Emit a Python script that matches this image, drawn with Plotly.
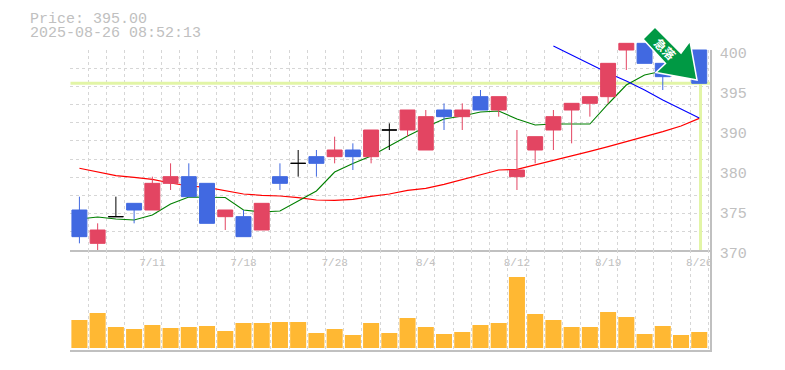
import plotly.graph_objects as go

price_label = "Price: 395.00"
time_label = "2025-08-26 08:52:13"
signal_label = "急落"

session = list(range(35))
opens = [376, 371, None, 377, 376, 380, 381, 380, 375, 375, 373, 381, None, 384, 384, 385, 384, None, 388, 385,
         391, 390, 393, 391, 381, 385, 388, 391, 392, 393, 400, 401, 398, 398, 400]
closes = [372, 373, None, 376, 380, 381, 378, 374, 376, 372, 377, 380, None, 383, 385, 384, 388, None, 391, 390,
          390, 391, 391, 393, 382, 387, 390, 392, 393, 398, 401, 398, 396, 397, 395]
highs = [378, 374, None, 377, 381, 383, 383, 380, 376, 376, 377, 383, None, 385, 387, 386, 388, None, 391, 391,
         392, 392, 394, 393, 388, 387, 391, 392, 393, 398, 401, 401, 398, 398, 400]
lows = [371, 370, None, 374, 376, 379, 378, 374, 373, 372, 373, 379, None, 381, 383, 382, 383, None, 387, 385,
        388, 388, 391, 390, 379, 383, 385, 386, 390, 392, 397, 398, 394, 397, 395]

doji_session = [2, 12, 17]
doji_price = [375, 383, 388]
doji_high = [378, 385, 389]
doji_low = [375, 381, 385]

ma_short = [374.65, 374.95, 374.65, 374.5, 375.25, 376.9, 377.95, 377.88, 377.88, 376, 375.7, 375.85, 377.35,
            378.85, 381.7, 382.98, 384.1, 385.6, 387.1, 388.45, 389.65, 390.1, 390.7, 390.85, 389.65, 388.75,
            388.9, 388.9, 388.9, 391.9, 394.75, 396.25, 396.85, 397.3, 397.3]
ma_long = [382.26, 381.7, 381.15, 380.9, 380.6, 380.05, 379.6, 379.4, 378.85, 378.4, 378.2, 378.1, 377.85, 377.5,
           377.45, 377.6, 378.05, 378.4, 378.95, 379.25, 379.85, 380.55, 381.25, 382, 382.1, 382.75, 383.4, 384.1,
           384.8, 385.5, 386.25, 386.9, 387.75, 388.6, 389.75]
trend_session = [26, 27, 28, 29, 30, 31, 32, 33, 34]
trend = [400.6, 399.25, 397.9, 396.55, 395.35, 394, 392.5, 391.15, 389.8]

volume = [28, 35, 21, 19, 23, 20, 21, 22, 17, 25, 25, 26, 26, 15, 19, 13, 25, 15, 30, 21, 14, 16, 23, 25, 71, 34,
          28, 21, 21, 36, 31, 14, 22, 13, 16]

current_price = 395
x_tick_pos = [4, 9, 14, 19, 24, 29, 34]
x_tick_text = ["7/11", "7/18", "7/28", "8/4", "8/12", "8/19", "8/26"]
y_tick_pos = [400, 394, 388, 382, 376, 370]
y_tick_text = ["400", "395", "390", "380", "375", "370"]

W, H = 785, 370
X0, X1 = 70.3, 710.0
XR = [-0.5, 34.59]
GREY = "#c0c0c0"
GRID = "#d6d6d6"
MONO = "Liberation Mono, monospace"
RED = "#E34562"
BLUE = "#4169E1"


def py(y):
    return (H - y) / H


def px(x):
    return x / W


xdom = [px(X0), px(X1)]
edges = [i - 0.5 for i in range(36)]
grid_y = [370 + k * 30 / 11 for k in range(12)]

fig = go.Figure()

fig.add_trace(go.Scatter(x=[XR[0], XR[1], None, 34.07, 34.07], y=[current_price, current_price, None, current_price, 370],
                         mode="lines", line=dict(color="#E2F5A6", width=3), xaxis="x", yaxis="y", hoverinfo="skip"))
fig.add_trace(go.Scatter(x=session, y=ma_long, mode="lines", line=dict(color="#FF0000", width=1.2),
                         xaxis="x2", yaxis="y2", hoverinfo="skip"))
fig.add_trace(go.Scatter(x=session, y=ma_short, mode="lines", line=dict(color="#008000", width=1.1),
                         xaxis="x2", yaxis="y2", hoverinfo="skip"))
fig.add_trace(go.Scatter(x=trend_session, y=trend, mode="lines", line=dict(color="#0000FF", width=1.1),
                         xaxis="x2", yaxis="y2", hoverinfo="skip"))
fig.add_trace(go.Candlestick(x=session, open=opens, high=highs, low=lows, close=closes, whiskerwidth=0,
                             increasing=dict(line=dict(color=RED, width=1), fillcolor=RED),
                             decreasing=dict(line=dict(color=BLUE, width=1), fillcolor=BLUE),
                             xaxis="x3", yaxis="y3", hoverinfo="skip"))
fig.add_trace(go.Candlestick(x=doji_session, open=doji_price, high=doji_high, low=doji_low, close=doji_price,
                             whiskerwidth=0,
                             increasing=dict(line=dict(color="#000000", width=1), fillcolor="#000000"),
                             decreasing=dict(line=dict(color="#000000", width=1), fillcolor="#000000"),
                             xaxis="x3", yaxis="y3", hoverinfo="skip"))
fig.add_trace(go.Bar(x=session, y=volume, marker=dict(color="#FFB833", line=dict(width=0)),
                     xaxis="x4", yaxis="y4", hoverinfo="skip"))

hidden = dict(visible=False, fixedrange=True)
over_dom = [py(250), py(30)]
over_range = [370, 370 + 220 * 0.15]

minor_x = dict(tickvals=edges, showgrid=True, gridcolor=GRID, griddash="3px,3px", gridwidth=1, ticklen=0)

fig.update_layout(
    template="none",
    width=W, height=H, margin=dict(l=0, r=0, t=0, b=0, pad=0), autosize=False,
    paper_bgcolor="white", plot_bgcolor="rgba(0,0,0,0)", showlegend=False,
    boxgap=0.18, boxgroupgap=0, bargap=0.12, boxmode="overlay",
    xaxis=dict(domain=xdom, range=XR, anchor="y", tickmode="array", tickvals=x_tick_pos, ticktext=x_tick_text,
               tickfont=dict(family=MONO, size=11, color=GREY), ticklen=0, showgrid=False, zeroline=False,
               showline=True, linecolor=GREY, linewidth=1.5, minor=minor_x, ticklabelstandoff=1, fixedrange=True,
               rangeslider=dict(visible=False), automargin=False),
    yaxis=dict(domain=[py(250), py(50)], range=[370, 400], anchor="x", side="right", tickmode="array",
               tickvals=y_tick_pos, ticktext=y_tick_text, tickfont=dict(family=MONO, size=15, color=GREY),
               ticklen=0, showgrid=False, zeroline=False, showline=True, linecolor=GREY, linewidth=1.5,
               ticklabelstandoff=5, ticklabelshift=3, fixedrange=True, automargin=False,
               minor=dict(tickvals=grid_y, showgrid=True, gridcolor=GRID, griddash="3px,3px", gridwidth=1, ticklen=0)),
    xaxis2=dict(domain=xdom, range=XR, anchor="y2", **hidden),
    yaxis2=dict(domain=over_dom, range=over_range, anchor="x2", **hidden),
    xaxis3=dict(domain=xdom, range=XR, anchor="y3", rangeslider=dict(visible=False), **hidden),
    yaxis3=dict(domain=over_dom, range=over_range, anchor="x3", **hidden),
    xaxis4=dict(domain=xdom, range=XR, anchor="y4", tickmode="array", tickvals=[], showticklabels=False, ticklen=0,
                showgrid=False, zeroline=False, showline=True, linecolor=GREY, linewidth=1.5, minor=minor_x,
                fixedrange=True, automargin=False),
    yaxis4=dict(domain=[py(350), py(250)], range=[-2, 98], anchor="x4", side="right", showticklabels=False,
                ticklen=0, showgrid=False, zeroline=False, showline=True, linecolor=GREY, linewidth=1.5,
                fixedrange=True, automargin=False),
)

arrow_px = [(655, 27), (681, 53), (690, 41), (697, 80), (656, 72.5), (665.5, 63.5), (643, 39)]
path = "M " + " L ".join(f"{px(a):.5f},{py(b):.5f}" for a, b in arrow_px) + " Z"
fig.add_shape(type="path", path=path, xref="paper", yref="paper", fillcolor="#009944",
              line=dict(color="white", width=1.5), layer="above")

fig.add_annotation(x=px(665), y=py(49), xref="paper", yref="paper", text=f"<b>{signal_label}</b>", textangle=45,
                   xanchor="center", yanchor="middle", showarrow=False,
                   font=dict(family="Noto Sans CJK JP", size=12, color="white"))
fig.add_annotation(x=px(29), y=py(19), xref="paper", yref="paper", text=price_label, xanchor="left", yanchor="middle",
                   showarrow=False, font=dict(family=MONO, size=15, color=GREY), borderpad=0)
fig.add_annotation(x=px(29), y=py(34), xref="paper", yref="paper", text=time_label, xanchor="left", yanchor="middle",
                   showarrow=False, font=dict(family=MONO, size=15, color=GREY), borderpad=0)

fig.write_html("out.html", config=dict(displayModeBar=False), post_script="document.body.style.margin='0';")
